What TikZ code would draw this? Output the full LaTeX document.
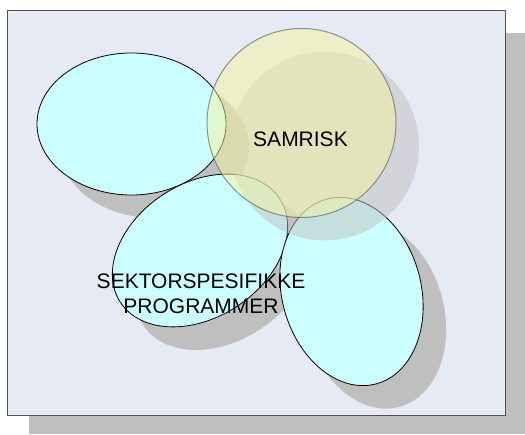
\documentclass[tikz,border=0pt]{standalone}
\usepackage{fontspec}
\setmainfont{Liberation Sans}
\definecolor{bgfill}{RGB}{230,234,244}
\definecolor{shad}{RGB}{191,191,191}
\definecolor{cyanfill}{RGB}{204,255,255}
\definecolor{samfill}{RGB}{245,245,160}
\definecolor{frame}{RGB}{80,80,80}
\tikzset{
  shadowshape/.style={fill=shad, draw=none},
  cyanshape/.style={fill=cyanfill, draw=black, line width=0.8pt},
  samshape/.style={fill=samfill, fill opacity=0.5, draw=black!60, draw opacity=0.7, line width=1pt},
  samshadow/.style={fill=shad, fill opacity=0.5, draw=none},
  lbl/.style={font=\fontsize{21}{25}\selectfont, inner sep=0pt, align=center, text=black}
}
\begin{document}
\begin{tikzpicture}[x=1pt,y=1pt]
\useasboundingbox (0,0) rectangle (525,434);
% background panel with shadow
\fill[shad] (29,0) rectangle (525,401);
\draw[fill=bgfill, draw=frame, line width=1pt] (7,19) rectangle (505,423);
% left ellipse
\path[shadowshape] (154.5,287) ellipse [x radius=94.5, y radius=71];
\path[cyanshape] (131.5,310) ellipse [x radius=94.5, y radius=71];
% middle ellipse
\path[shadowshape, rotate around={33:(223,160.5)}] (223,160.5) ellipse [x radius=95, y radius=67];
\path[cyanshape, rotate around={33:(200,183.5)}] (200,183.5) ellipse [x radius=95, y radius=67];
% right ellipse
\path[shadowshape, rotate around={15:(374.5,119.5)}] (374.5,119.5) ellipse [x radius=69.6, y radius=95.6];
\path[cyanshape, rotate around={15:(351.5,142.5)}] (351.5,142.5) ellipse [x radius=69.6, y radius=95.6];
% SAMRISK circle
\path[samshadow] (324.5,288) circle [radius=94.5];
\path[samshape] (301.5,311) circle [radius=94.5];
% labels
\node[lbl] (samrisk) at (300.5,294.5) {SAMRISK};
\node[lbl] (sektor) at (201,140.5) {SEKTORSPESIFIKKE\\PROGRAMMER};
\end{tikzpicture}
\end{document}
